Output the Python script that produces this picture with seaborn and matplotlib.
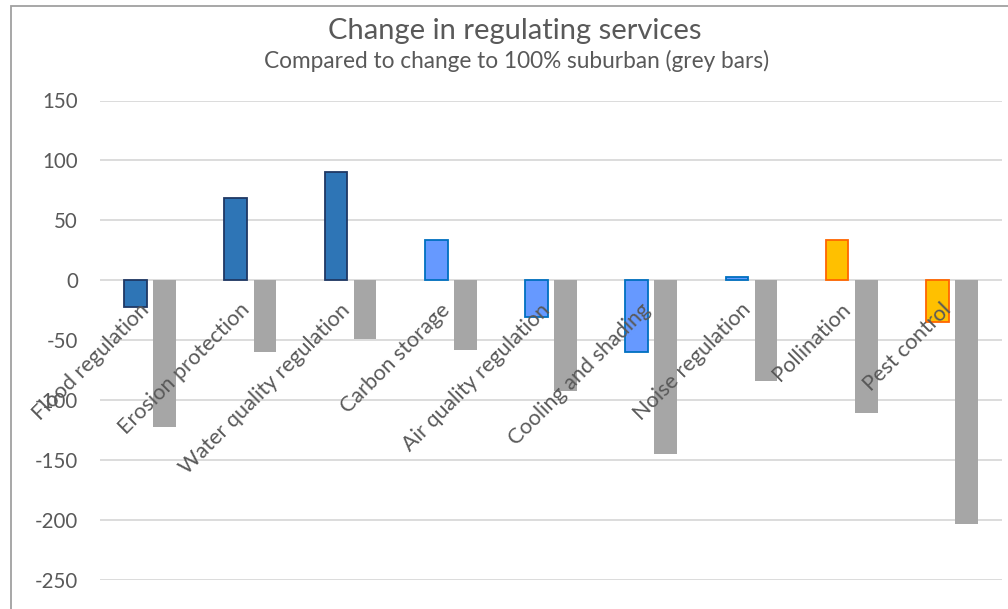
import matplotlib
matplotlib.use("Agg")
import matplotlib.pyplot as plt
import matplotlib.patches as mpatches
import matplotlib.transforms as mtransforms
import seaborn as sns
import pandas as pd

# Regulating services and their change values
categories = ["Flood regulation", "Erosion protection", "Water quality regulation",
              "Carbon storage", "Air quality regulation", "Cooling and shading",
              "Noise regulation", "Pollination", "Pest control"]
scenario_change = [-22, 69, 90, 34, -31, -60, 3, 34, -35]
suburban_change = [-122, -60, -49, -58, -92, -145, -84, -111, -203]

# Fill / edge colours per service group (water, air/climate, biotic)
fill_colors = ["#2E75B6", "#2E75B6", "#2E75B6", "#6699FF", "#6699FF", "#6699FF",
               "#6699FF", "#FFC000", "#FFC000"]
edge_colors = ["#1F3864", "#1F3864", "#1F3864", "#0070C0", "#0070C0", "#0070C0",
               "#0070C0", "#FF6600", "#FF6600"]
grey_bar = "#A6A6A6"

yticks = [150, 100, 50, 0, -50, -100, -150, -200, -250]

df = pd.DataFrame({
    "service": categories * 2,
    "change": scenario_change + suburban_change,
    "series": ["scenario"] * len(categories) + ["suburban"] * len(categories),
})

sns.set_theme(style="white")
plt.rcParams["font.family"] = ["Lato", "DejaVu Sans"]
text_color = "#595959"

fig = plt.figure(figsize=(10.08, 6.09), dpi=100)
ax = fig.add_axes([100 / 1008, 1 - 580 / 609, 902 / 1008, (580 - 100.5) / 609])

sns.barplot(data=df, x="service", y="change", hue="series", order=categories,
            hue_order=["scenario", "suburban"], palette=["#2E75B6", grey_bar],
            width=0.58, gap=0.22, legend=False, ax=ax, zorder=3,
            err_kws={"linewidth": 0})

n = len(categories)
for i, patch in enumerate(ax.patches[:n]):
    patch.set_facecolor(fill_colors[i])
    patch.set_edgecolor(edge_colors[i])
    patch.set_linewidth(1.3)
for patch in ax.patches[n:2 * n]:
    patch.set_edgecolor("none")

ax.set_ylim(-250, 150)
ax.set_xlim(-0.5, n - 0.5)
ax.set_yticks(yticks)
ax.set_yticklabels([str(v) for v in yticks])
ax.tick_params(axis="y", length=0, pad=16, labelsize=14.8, labelcolor=text_color)
ax.set_xticks([])
ax.set_xlabel("")
ax.set_ylabel("")
for s in ax.spines.values():
    s.set_visible(False)
for v in yticks:
    ax.axhline(v, color="#D9D9D9", linewidth=1.3, zorder=1)

# Category labels sit along the zero line, rotated 45 degrees
offset = mtransforms.offset_copy(ax.transData, fig=fig, x=-3, y=-19, units="points")
for i, name in enumerate(categories):
    ax.text(i, 0, name, rotation=45, rotation_mode="anchor", ha="right", va="center",
            fontsize=15.6, color=text_color, transform=offset, zorder=4)

fig.text(515 / 1008, 1 - 31 / 609, "Change in regulating services", ha="center",
         va="center", fontsize=21, color=text_color)
fig.text(517 / 1008, 1 - 61 / 609, "Compared to change to 100% suburban (grey bars)",
         ha="center", va="center", fontsize=16.3, color=text_color)

# Chart frame
frame = mpatches.Rectangle((11 / 1008, -0.1), 1.2, 1.1 - 5.5 / 609, transform=fig.transFigure,
                           fill=False, edgecolor="#A0A0A0", linewidth=1.3)
fig.patches.append(frame)

fig.savefig("out.png", dpi=100)
